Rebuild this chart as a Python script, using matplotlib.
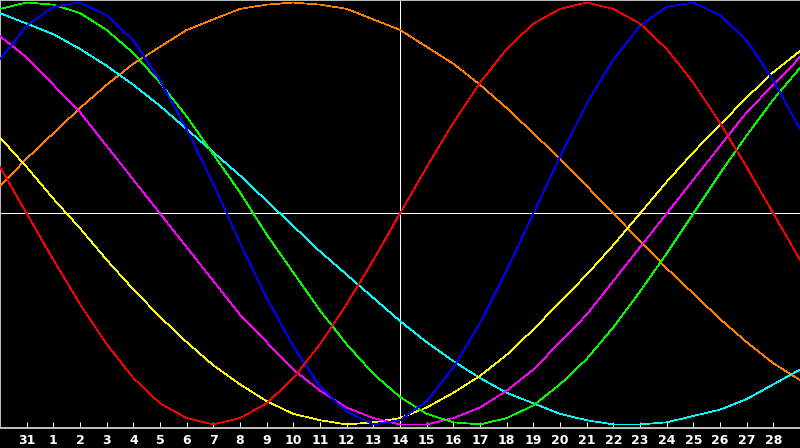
import numpy as np
from matplotlib import pyplot as plt

# day labels under the ticks (positions 1..29, position 0 and 30 are the edges)
day_labels = ["31"] + [str(d) for d in range(1, 29)]

# biorhythm values in percent, one value per day column (31 columns)
physical = [73, 89, 98, 100, 94, 82, 63, 40, 14, -14, -40, -63, -82, -94, -100,
            -98, -89, -73, -52, -27, 0, 27, 52, 73, 89, 98, 100, 94, 82, 63, 40]
emotional = [22, 0, -22, -43, -62, -78, -90, -97, -100, -97, -90, -78, -62, -43, -22,
             0, 22, 43, 62, 78, 90, 97, 100, 97, 90, 78, 62, 43, 22, 0, -22]
intellectual = [97, 100, 99, 95, 87, 76, 62, 46, 28, 10, -10, -28, -46, -62, -76,
                -87, -95, -99, -100, -97, -91, -81, -69, -54, -37, -19, 0, 19, 37, 54, 69]
intuitive = [84, 74, 61, 48, 32, 16, 0, -16, -32, -48, -61, -74, -84, -92, -97,
             -100, -100, -97, -92, -84, -74, -61, -48, -32, -16, 0, 16, 32, 48, 61, 74]
aesthetic = [36, 22, 7, -7, -22, -36, -49, -61, -72, -81, -89, -95, -98, -100, -99,
             -97, -92, -85, -77, -67, -55, -42, -29, -15, 0, 15, 29, 42, 55, 67, 77]
awareness = [13, 26, 38, 50, 61, 71, 79, 87, 92, 97, 99, 100, 99, 97, 92,
             87, 79, 71, 61, 50, 38, 26, 13, 0, -13, -26, -38, -50, -61, -71, -79]
spiritual = [95, 90, 85, 78, 70, 61, 51, 40, 29, 18, 6, -6, -18, -29, -40,
             -51, -61, -70, -78, -85, -90, -95, -98, -100, -100, -99, -96, -93, -88, -81, -74]

series = [
    (awareness, "#ff8000"),
    (spiritual, "#00ffff"),
    (aesthetic, "#ffff00"),
    (intuitive, "#ff00ff"),
    (intellectual, "#00ff00"),
    (physical, "#0000ff"),
    (emotional, "#ff0000"),
]

today = 15

fig = plt.figure(figsize=(8, 4.48), dpi=100)
fig.patch.set_facecolor("black")
ax = fig.add_axes([0, 20 / 448, 1, 428 / 448])
ax.set_facecolor("black")

x = np.arange(len(physical))
for values, color in series:
    ax.plot(x, values, color=color, linewidth=0.5, antialiased=False, zorder=3)

# cross hair: zero line and today line
ax.axhline(0, color="white", linewidth=0.7, antialiased=False, zorder=2)
ax.axvline(today, color="white", linewidth=0.7, antialiased=False, zorder=2)

ax.set_xlim(0, 30)
ax.set_ylim(-101.7, 101.2)

ax.set_xticks(np.arange(1, 30))
ax.set_xticklabels(day_labels)
ax.tick_params(axis="x", direction="in", length=4, width=0.7, color="white",
               labelcolor="white", labelsize=9, pad=4)
for lab in ax.get_xticklabels():
    lab.set_fontweight("bold")
ax.set_yticks([])

for side in ["left", "top", "bottom"]:
    ax.spines[side].set_color("#c0c0c0")
    ax.spines[side].set_linewidth(1.4)
ax.spines["right"].set_visible(False)

plt.savefig("out.png", dpi=100, facecolor="black")
